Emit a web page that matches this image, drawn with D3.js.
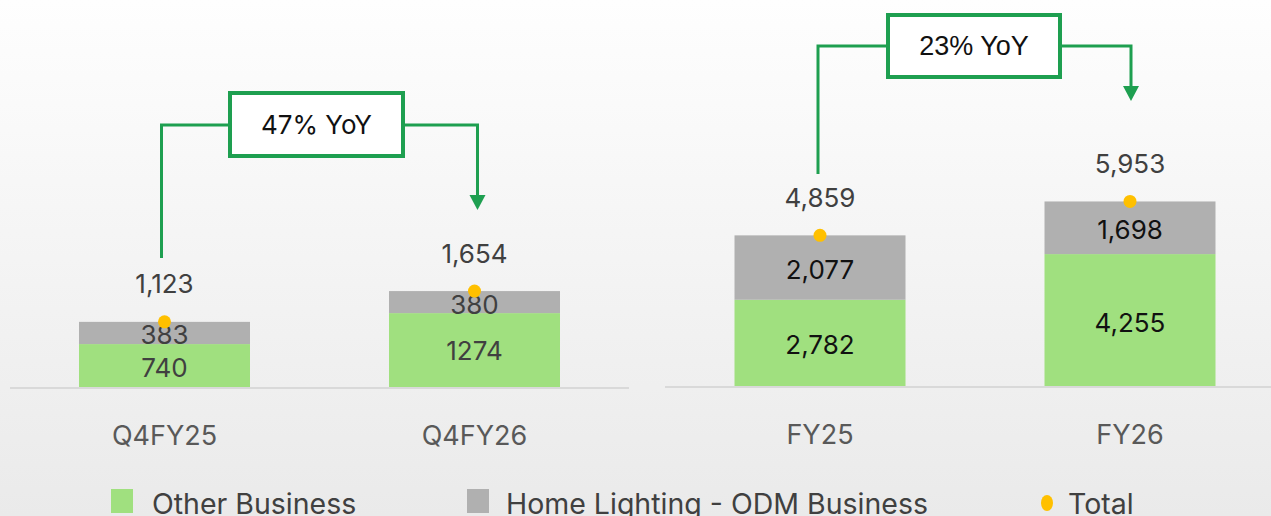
<!DOCTYPE html>
<html>
<head>
<meta charset="utf-8">
<script src="https://cdn.jsdelivr.net/npm/d3@7"></script>
<style>
  html, body { margin: 0; padding: 0; overflow: hidden; }
  svg { display: block; }
</style>
</head>
<body>
<svg id="chart" width="1271" height="516"></svg>
<script>
// ---- Data ----
const quarterCategories = ["Q4FY25", "Q4FY26"];
const quarterOther = [740, 1274];
const quarterHomeLighting = [383, 380];
const quarterTotal = [1123, 1654];
const quarterOtherLabels = ["740", "1274"];
const quarterHomeLabels = ["383", "380"];
const quarterTotalLabels = ["1,123", "1,654"];
const quarterYoY = "47% YoY";

const yearCategories = ["FY25", "FY26"];
const yearOther = [2782, 4255];
const yearHomeLighting = [2077, 1698];
const yearTotal = [4859, 5953];
const yearOtherLabels = ["2,782", "4,255"];
const yearHomeLabels = ["2,077", "1,698"];
const yearTotalLabels = ["4,859", "5,953"];
const yearYoY = "23% YoY";

const legendLabels = ["Other Business", "Home Lighting - ODM Business", "Total"];

// ---- Style ----
const FONT = "Inter, 'Open Sans', sans-serif";
const C_GREEN = "#A0E07F";
const C_GREY = "#B0B0B0";
const C_DOT = "#FFC000";
const C_ARROW = "#1E9F50";
const C_AXIS = "#D9D9D9";

const svg = d3.select("#chart");
const defs = svg.append("defs");
const grad = defs.append("linearGradient").attr("id", "bg").attr("x1", 0).attr("y1", 0).attr("x2", 0).attr("y2", 1);
grad.append("stop").attr("offset", "0%").attr("stop-color", "#FEFEFE");
grad.append("stop").attr("offset", "100%").attr("stop-color", "#EAEAEA");
svg.append("rect").attr("width", 1271).attr("height", 516).attr("fill", "url(#bg)");

function panel(cfg) {
  const g = svg.append("g");
  const x = d3.scaleBand().domain(cfg.categories).range(cfg.xRange).paddingInner(0.4484).paddingOuter(cfg.padOut);
  const y = d3.scaleLinear().domain([0, cfg.yMax]).range([cfg.base, cfg.top]);

  // axis line
  g.append("line").attr("x1", cfg.xRange[0]).attr("x2", Math.min(cfg.xRange[1], 1271))
    .attr("y1", cfg.base + 1).attr("y2", cfg.base + 1)
    .attr("stroke", C_AXIS).attr("stroke-width", 2);

  // category axis labels
  const ax = d3.axisBottom(x).tickSize(0).tickPadding(0);
  const axG = g.append("g").attr("transform", `translate(0,${cfg.base})`).call(ax);
  axG.select(".domain").remove();
  axG.selectAll("text").attr("font-family", FONT).attr("font-size", 27)
    .attr("fill", "#595959").attr("dy", null).attr("y", 58);

  const idx = d3.range(cfg.categories.length);
  // green (other)
  g.selectAll(".other").data(idx).join("rect")
    .attr("x", i => x(cfg.categories[i])).attr("width", x.bandwidth())
    .attr("y", i => y(cfg.other[i])).attr("height", i => y(0) - y(cfg.other[i]))
    .attr("fill", C_GREEN);
  // grey (home lighting)
  g.selectAll(".home").data(idx).join("rect")
    .attr("x", i => x(cfg.categories[i])).attr("width", x.bandwidth())
    .attr("y", i => y(cfg.other[i] + cfg.home[i]))
    .attr("height", i => y(cfg.other[i]) - y(cfg.other[i] + cfg.home[i]))
    .attr("fill", C_GREY);

  const cx = i => x(cfg.categories[i]) + x.bandwidth() / 2;
  // segment labels
  g.selectAll(".lo").data(idx).join("text")
    .attr("x", cx).attr("y", i => (y(0) + y(cfg.other[i])) / 2 + cfg.loOff[i])
    .attr("text-anchor", "middle").attr("dominant-baseline", "central")
    .attr("font-family", FONT).attr("font-size", 26).attr("fill", cfg.segColor)
    .text(i => cfg.otherLabels[i]);
  g.selectAll(".lh").data(idx).join("text")
    .attr("x", cx).attr("y", i => (y(cfg.other[i]) + y(cfg.other[i] + cfg.home[i])) / 2 + cfg.lhOff[i])
    .attr("text-anchor", "middle").attr("dominant-baseline", "central")
    .attr("font-family", FONT).attr("font-size", 26).attr("fill", cfg.segColor)
    .text(i => cfg.homeLabels[i]);
  // total dots
  g.selectAll(".dot").data(idx).join("circle")
    .attr("cx", cx).attr("cy", i => y(cfg.total[i])).attr("r", 6.5).attr("fill", C_DOT);
  // total labels
  g.selectAll(".lt").data(idx).join("text")
    .attr("x", cx).attr("y", i => y(cfg.total[i]) - 38)
    .attr("text-anchor", "middle").attr("dominant-baseline", "central")
    .attr("font-family", FONT).attr("font-size", 26).attr("fill", "#404040")
    .text(i => cfg.totalLabels[i]);

  // YoY connector
  const a = cfg.arrow;
  const x0 = cx(0) + a.dx0, x1 = cx(1) + a.dx1;
  g.append("path")
    .attr("d", `M${x0},${a.startY} V${a.lineY} H${a.boxX0} M${a.boxX1},${a.lineY} H${x1} V${a.headY}`)
    .attr("fill", "none").attr("stroke", C_ARROW).attr("stroke-width", 3);
  g.append("path")
    .attr("d", `M${x1 - 8},${a.headY} L${x1 + 8},${a.headY} L${x1},${a.headY + 15} Z`)
    .attr("fill", C_ARROW);
  g.append("rect").attr("x", a.boxX0).attr("y", a.boxY0)
    .attr("width", a.boxX1 - a.boxX0).attr("height", a.boxY1 - a.boxY0)
    .attr("fill", "#FFFFFF").attr("stroke", C_ARROW).attr("stroke-width", 4);
  g.append("text").attr("x", (a.boxX0 + a.boxX1) / 2).attr("y", (a.boxY0 + a.boxY1) / 2)
    .attr("text-anchor", "middle").attr("dominant-baseline", "central")
    .attr("font-family", a.font).attr("font-size", a.size).attr("fill", "#111111")
    .text(cfg.yoy);
}

panel({
  categories: quarterCategories, other: quarterOther, home: quarterHomeLighting, total: quarterTotal,
  otherLabels: quarterOtherLabels, homeLabels: quarterHomeLabels, totalLabels: quarterTotalLabels,
  yoy: quarterYoY, xRange: [10, 629], padOut: 0.2226,
  base: 387, top: 271, yMax: 2000, segColor: "#404040", loOff: [2, 0], lhOff: [2, 2],
  arrow: { dx0: -3, dx1: 3, startY: 258, lineY: 125, boxX0: 230, boxX1: 403, boxY0: 93, boxY1: 156, headY: 195, font: FONT, size: 26 }
});

panel({
  categories: yearCategories, other: yearOther, home: yearHomeLighting, total: yearTotal,
  otherLabels: yearOtherLabels, homeLabels: yearHomeLabels, totalLabels: yearTotalLabels,
  yoy: yearYoY, xRange: [665, 1285], padOut: 0.2242,
  base: 386, top: 169, yMax: 7000, segColor: "#111111", loOff: [2, 2], lhOff: [2, 2],
  arrow: { dx0: -2, dx1: 1, startY: 174, lineY: 46, boxX0: 888, boxX1: 1060, boxY0: 15, boxY1: 77, headY: 86, font: "'Liberation Sans', Arial, sans-serif", size: 27 }
});

// ---- Legend ----
const legend = svg.append("g");
const legendItems = [
  { label: legendLabels[0], type: "rect", color: C_GREEN, mx: 111, tx: 152 },
  { label: legendLabels[1], type: "rect", color: C_GREY, mx: 467, tx: 506 },
  { label: legendLabels[2], type: "dot", color: C_DOT, mx: 1041, tx: 1068 }
];
legendItems.forEach(d => {
  if (d.type === "rect") {
    legend.append("rect").attr("x", d.mx).attr("y", 489).attr("width", 22).attr("height", 24).attr("fill", d.color);
  } else {
    legend.append("ellipse").attr("cx", d.mx + 6).attr("cy", 503).attr("rx", 6).attr("ry", 8).attr("fill", d.color);
  }
  legend.append("text").attr("x", d.tx).attr("y", 503).attr("dominant-baseline", "central")
    .attr("font-family", FONT).attr("font-size", 28.5).attr("fill", "#404040").text(d.label);
});
</script>
</body>
</html>
